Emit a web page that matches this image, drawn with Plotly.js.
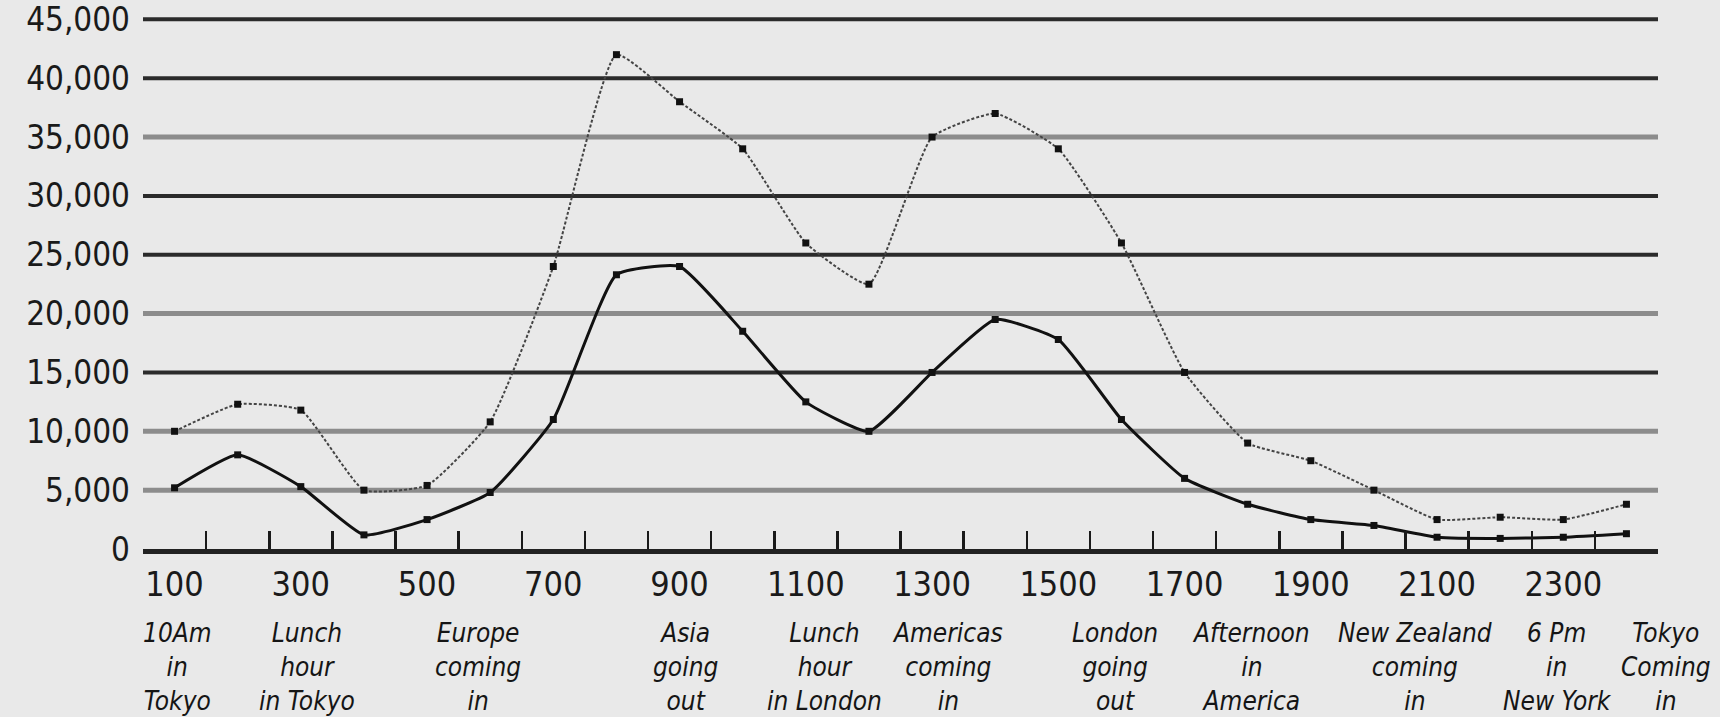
<!DOCTYPE html>
<html>
<head>
<meta charset="utf-8">
<script src="https://cdn.plot.ly/plotly-3.0.1.min.js"></script>
<style>
html,body{margin:0;padding:0;background:#e9e9e9;}
#chart{width:1720px;height:717px;}
</style>
</head>
<body>
<div id="chart"></div>
<script>
// ---- data ----
const hours = [100,200,300,400,500,600,700,800,900,1000,1100,1200,1300,1400,1500,1600,1700,1800,1900,2000,2100,2200,2300,2400];
const upperSeries = [10000,12300,11800,5000,5400,10800,24000,42000,38000,34000,26000,22500,35000,37000,34000,26000,15000,9000,7500,5000,2500,2700,2500,3800];
const lowerSeries = [5200,8000,5300,1200,2500,4800,11000,23300,24000,18500,12500,10000,15000,19500,17800,11000,6000,3800,2500,2000,1000,900,1000,1300];
const xTickLabels = ['100','300','500','700','900','1100','1300','1500','1700','1900','2100','2300'];
const xTickVals = [100,300,500,700,900,1100,1300,1500,1700,1900,2100,2300];
const minorTickVals = [50,150,250,350,450,550,650,750,850,950,1050,1150,1250,1350,1450,1550,1650,1750,1850,1950,2050,2150,2250,2350,2450];
const yTickVals = [0,5000,10000,15000,20000,25000,30000,35000,40000,45000];
const gridValues = [5000,10000,15000,20000,25000,30000,35000,40000,45000];
const gridTones  = ['grey','grey','dark','grey','dark','dark','grey','dark','dark'];
const eventLabels = ['10Am<br>in<br>Tokyo','Lunch<br>hour<br>in Tokyo','Europe<br>coming<br>in','Asia<br>going<br>out','Lunch<br>hour<br>in London','Americas<br>coming<br>in','London<br>going<br>out','Afternoon<br>in<br>America','New Zealand<br>coming<br>in','6 Pm<br>in<br>New York','Tokyo<br>Coming<br>in'];
const eventHours  = [105,310,580,910,1130,1325,1590,1805,2065,2290,2462];

const X_RANGE = [50,2450];
const Y_RANGE = [0,45200];
const FONT = '"DejaVu Sans Condensed", "Liberation Sans Narrow", sans-serif';

const traces = [
  {
    x: hours, y: upperSeries, type: 'scatter', mode: 'lines+markers',
    line: {color: '#444', width: 2, dash: '3px,2px', shape: 'spline', smoothing: 0.45},
    marker: {symbol: 'square', size: 7, color: '#111'},
    hoverinfo: 'x+y', cliponaxis: false
  },
  {
    x: hours, y: lowerSeries, type: 'scatter', mode: 'lines+markers',
    line: {color: '#111', width: 3, shape: 'spline', smoothing: 0.45},
    marker: {symbol: 'square', size: 7, color: '#111'},
    hoverinfo: 'x+y', cliponaxis: false
  },
  { x: [], y: [], xaxis: 'x2', type: 'scatter', mode: 'markers', showlegend: false, hoverinfo: 'skip' }
];

const toneColor = {dark: '#2b2b2b', grey: '#8c8c8c'};
const toneWidth = {dark: 4, grey: 5};
const shapes = gridValues.map((v, i) => ({
  type: 'line', xref: 'paper', yref: 'y', x0: 0, x1: 1, y0: v, y1: v,
  line: {color: toneColor[gridTones[i]], width: toneWidth[gridTones[i]]}, layer: 'below'
}));

const annotations = eventLabels.map((t, i) => ({
  text: t, xref: 'paper', yref: 'paper',
  x: (eventHours[i] - X_RANGE[0]) / (X_RANGE[1] - X_RANGE[0]),
  y: -0.125, xanchor: 'center', yanchor: 'top', showarrow: false, align: 'center',
  font: {family: FONT, size: 26, color: '#151515', style: 'italic'}
}));

const layout = {
  width: 1720, height: 717,
  paper_bgcolor: '#e9e9e9', plot_bgcolor: '#e9e9e9',
  margin: {l: 143, r: 62, t: 17, b: 168},
  showlegend: false,
  font: {family: FONT, color: '#1a1a1a'},
  xaxis: {
    range: X_RANGE, tickmode: 'array', tickvals: minorTickVals,
    showticklabels: false, ticks: 'inside', ticklen: 18, tickwidth: 2.5, tickcolor: '#1a1a1a',
    showgrid: false, zeroline: false, showline: true, linecolor: '#222', linewidth: 5
  },
  xaxis2: {
    range: X_RANGE, overlaying: 'x', anchor: 'y', side: 'bottom',
    tickmode: 'array', tickvals: xTickVals, ticktext: xTickLabels, ticks: '',
    showgrid: false, zeroline: false, showline: false,
    ticklabelstandoff: 12, ticklabeloverflow: 'allow',
    tickfont: {family: FONT, size: 34, color: '#1a1a1a'}
  },
  yaxis: {
    range: Y_RANGE, tickmode: 'array', tickvals: yTickVals, tickformat: ',d',
    showgrid: false, zeroline: false, showline: false, ticks: '',
    ticklabelstandoff: 12, ticklabeloverflow: 'allow',
    tickfont: {family: FONT, size: 33, color: '#1a1a1a'}
  },
  shapes: shapes,
  annotations: annotations
};

Plotly.newPlot('chart', traces, layout, {displayModeBar: false, staticPlot: true});
</script>
</body>
</html>
